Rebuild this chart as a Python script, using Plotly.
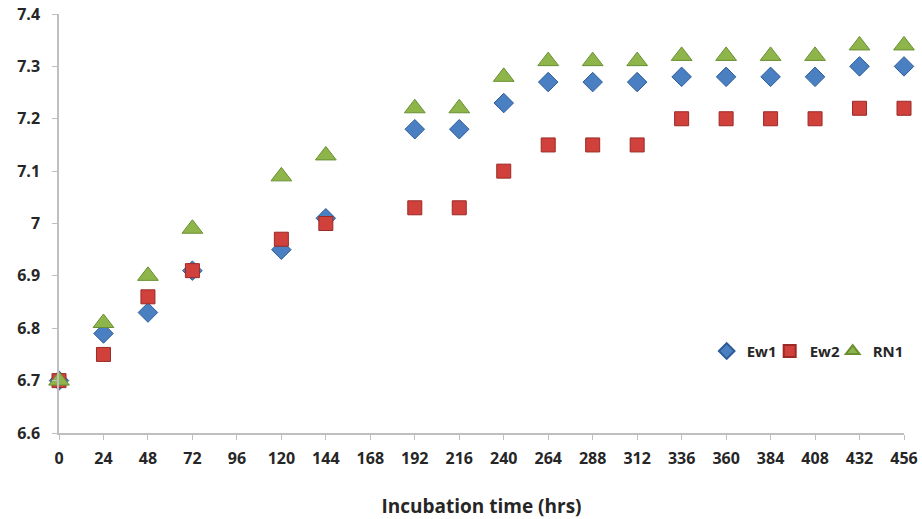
import plotly.graph_objects as go

hours = [0, 24, 48, 72, 120, 144, 192, 216, 240, 264, 288, 312, 336, 360, 384, 408, 432, 456]
ew1 = [6.70, 6.79, 6.83, 6.91, 6.95, 7.01, 7.18, 7.18, 7.23, 7.27, 7.27, 7.27, 7.28, 7.28, 7.28, 7.28, 7.30, 7.30]
ew2 = [6.70, 6.75, 6.86, 6.91, 6.97, 7.00, 7.03, 7.03, 7.10, 7.15, 7.15, 7.15, 7.20, 7.20, 7.20, 7.20, 7.22, 7.22]
rn1 = [6.70, 6.81, 6.90, 6.99, 7.09, 7.13, 7.22, 7.22, 7.28, 7.31, 7.31, 7.31, 7.32, 7.32, 7.32, 7.32, 7.34, 7.34]
x_ticks = list(range(0, 457, 24))
y_ticks = [6.6, 6.7, 6.8, 6.9, 7.0, 7.1, 7.2, 7.3, 7.4]
y_labels = ["6.6", "6.7", "6.8", "6.9", "7", "7.1", "7.2", "7.3", "7.4"]

fig = go.Figure()
fig.add_trace(go.Scatter(x=hours, y=ew1, mode="markers", name="Ew1",
                         marker=dict(symbol="diamond", size=15, color="#4a7fc1",
                                     line=dict(color="#2c5d99", width=1))))
fig.add_trace(go.Scatter(x=hours, y=ew2, mode="markers", name="Ew2",
                         marker=dict(symbol="square", size=14, color="#d0413c",
                                     line=dict(color="#9b2a26", width=1))))
fig.add_trace(go.Scatter(x=hours, y=rn1, mode="markers", name="RN1", legendwidth=36,
                         marker=dict(symbol="triangle-up", size=18, color="#8db54a",
                                     line=dict(color="#6a8f33", width=1))))

font_fam = "Open Sans, Arial, sans-serif"
fig.update_layout(
    width=922, height=519,
    margin=dict(l=59, r=18, t=14, b=86, autoexpand=False),
    paper_bgcolor="white", plot_bgcolor="white",
    font=dict(family=font_fam, color="#262626"),
    showlegend=True,
    legend=dict(orientation="h", x=0.7665, y=0.195, xanchor="left", yanchor="middle",
                font=dict(size=15, family=font_fam, weight="bold"),
                itemsizing="constant", itemwidth=30, tracegroupgap=0,
                entrywidth=18, entrywidthmode="pixels",
                bgcolor="rgba(0,0,0,0)"),
    xaxis=dict(range=[0, 456], tickmode="array", tickvals=x_ticks,
               ticktext=[str(v) for v in x_ticks],
               showgrid=False, zeroline=False, showline=True, linecolor="#bfbfbf",
               linewidth=1.5, ticks="outside", ticklen=5, tickcolor="#bfbfbf",
               tickfont=dict(size=16, family=font_fam, weight="bold"),
               ticklabelstandoff=5,
               title=dict(text="Incubation time (hrs)", standoff=36,
                          font=dict(size=19, family=font_fam, weight="bold")),
               fixedrange=True),
    yaxis=dict(range=[6.6, 7.4], tickmode="array", tickvals=y_ticks, ticktext=y_labels,
               showgrid=False, zeroline=False, showline=True, linecolor="#bfbfbf",
               linewidth=1.5, ticks="outside", ticklen=5, tickcolor="#bfbfbf",
               tickfont=dict(size=16, family=font_fam, weight="bold"),
               ticklabelstandoff=9,
               fixedrange=True),
)
for tr in fig.data:
    tr.cliponaxis = False

fig.write_html("out.html", config={"displayModeBar": False},
               post_script="document.body.style.margin='0';")
